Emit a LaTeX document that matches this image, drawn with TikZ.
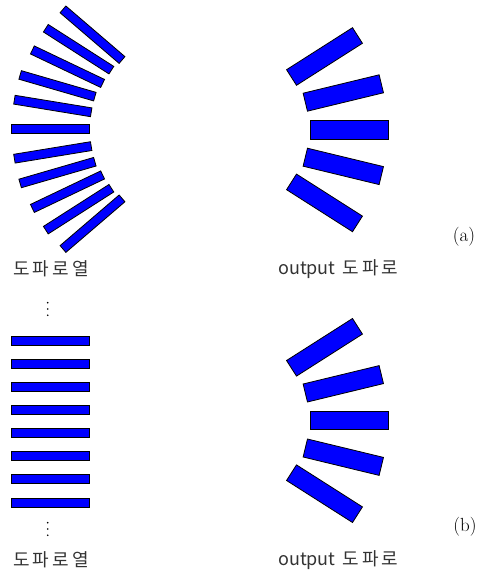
\documentclass[tikz,border=0pt]{standalone}
\usepackage{fontspec}
\usepackage{tikz}
\newfontfamily\krfont{Noto Sans CJK KR}
\newfontfamily\krwide[LetterSpace=17]{Noto Sans CJK KR}
\tikzset{
  thinbar/.style={draw=black,fill=blue,line width=.8pt,inner sep=0pt,minimum width=77.8pt,minimum height=8.9pt},
  widebar/.style={draw=black,fill=blue,line width=.8pt,inner sep=0pt,minimum width=78.2pt,minimum height=18.5pt},
  caption/.style={font=\krfont\fontsize{18}{20}\selectfont,text=black!80,inner sep=0pt},
  tag/.style={font=\fontsize{19}{22}\selectfont,inner sep=0pt}
}

\begin{document}
\begin{tikzpicture}[x=1pt,y=1pt]
\path[use as bounding box] (0,0) rectangle (485,573);
% (a) curved waveguide array
\node[thinbar,rotate=-40.6] (fa1) at (92.5,538.3) {};
\node[thinbar,rotate=-32.6] (fa2) at (78.6,523.8) {};
\node[thinbar,rotate=-25.5] (fa3) at (67.5,506.3) {};
\node[thinbar,rotate=-16.2] (fa4) at (57.5,487.2) {};
\node[thinbar,rotate=-9.3] (fa5) at (52.8,467.0) {};
\node[thinbar] (fa6) at (50.0,443.8) {};
\node[thinbar,rotate=9.3] (fa7) at (52.8,420.6) {};
\node[thinbar,rotate=16.2] (fa8) at (57.5,400.4) {};
\node[thinbar,rotate=25.5] (fa9) at (67.5,381.3) {};
\node[thinbar,rotate=32.6] (fa10) at (78.6,363.8) {};
\node[thinbar,rotate=40.6] (fa11) at (92.5,349.3) {};
% (a) output waveguides
\node[widebar,rotate=32.5] (oa1) at (324.5,516.5) {};
\node[widebar,rotate=13.6] (oa2) at (343.3,480.0) {};
\node[widebar] (oa3) at (349.5,443.3) {};
\node[widebar,rotate=-13.6] (oa4) at (343.3,406.6) {};
\node[widebar,rotate=-32.5] (oa5) at (324.5,370.1) {};
\node[caption,anchor=west] (la1) at (13,304) {\krwide 도파로열};
\node[caption,anchor=west] (la2) at (278,304) {output\hspace{7pt}\krwide 도파로};
\node[tag] (ta) at (464,336) {(a)};
% (b) straight waveguide array
\fill (47.7,270.3) circle (0.9pt);
\fill (47.7,264.0) circle (0.9pt);
\fill (47.7,257.7) circle (0.9pt);
\node[thinbar] (fb1) at (50,232.3) {};
\node[thinbar] (fb2) at (50,209.0) {};
\node[thinbar] (fb3) at (50,185.7) {};
\node[thinbar] (fb4) at (50,162.7) {};
\node[thinbar] (fb5) at (50,139.7) {};
\node[thinbar] (fb6) at (50,116.7) {};
\node[thinbar] (fb7) at (50,93.7) {};
\node[thinbar] (fb8) at (50,70.5) {};
\fill (47.7,50.3) circle (0.9pt);
\fill (47.7,44.0) circle (0.9pt);
\fill (47.7,37.7) circle (0.9pt);
% (b) output waveguides
\node[widebar,rotate=32.5] (ob1) at (324.5,225.7) {};
\node[widebar,rotate=13.6] (ob2) at (343.3,189.2) {};
\node[widebar] (ob3) at (349.5,152.5) {};
\node[widebar,rotate=-13.6] (ob4) at (343.3,115.8) {};
\node[widebar,rotate=-32.5] (ob5) at (324.5,79.3) {};
\node[caption,anchor=west] (lb1) at (13,13) {\krwide 도파로열};
\node[caption,anchor=west] (lb2) at (278,13) {output\hspace{7pt}\krwide 도파로};
\node[tag] (tb) at (465,46) {(b)};
\end{tikzpicture}
\end{document}
